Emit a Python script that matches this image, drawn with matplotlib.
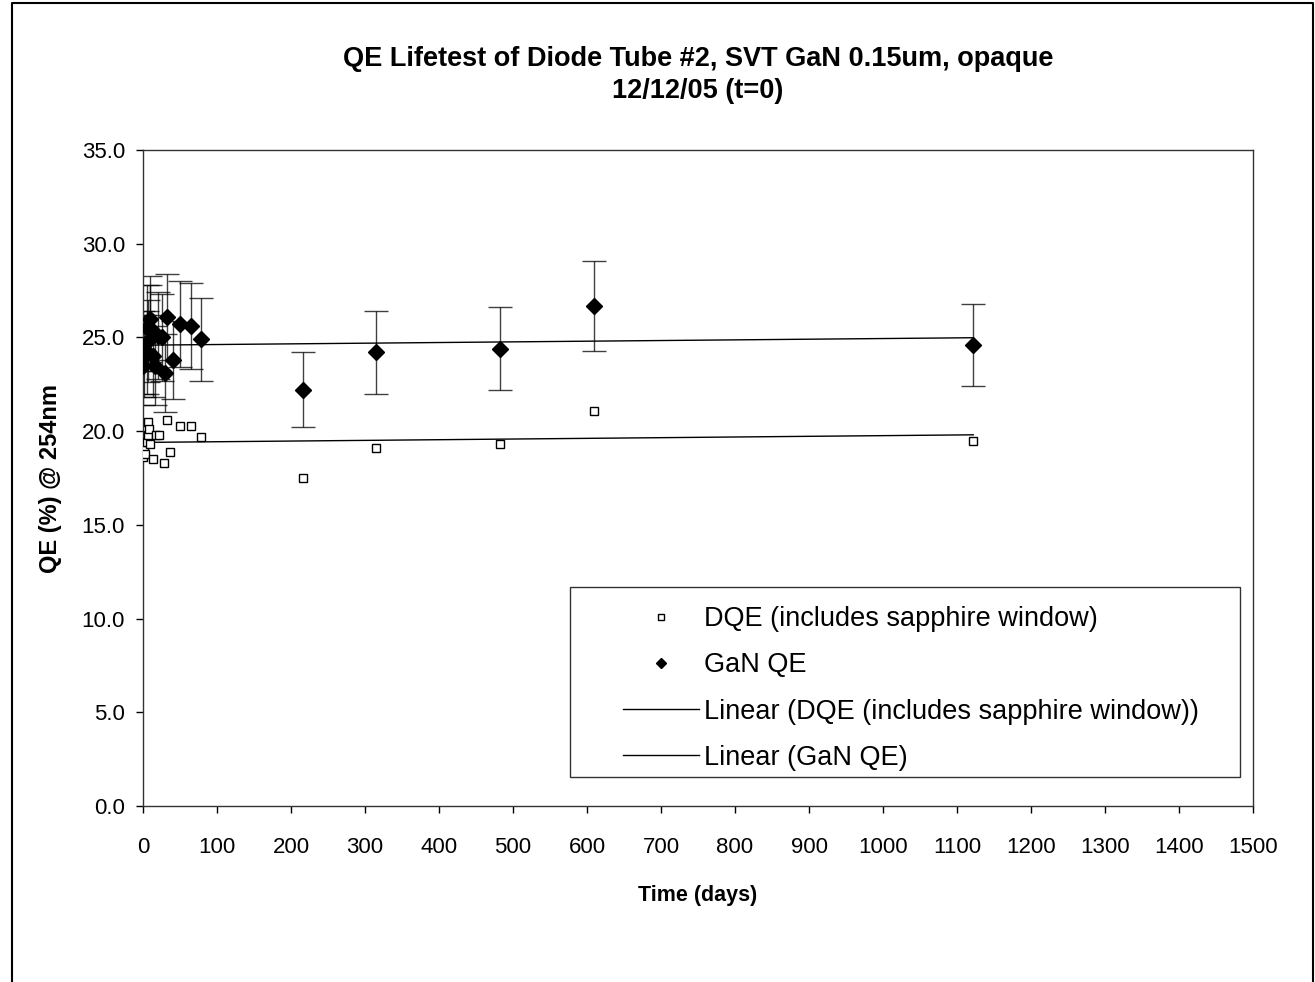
import numpy as np
import matplotlib.pyplot as plt
from matplotlib.lines import Line2D
from matplotlib.patches import Rectangle

plt.rcParams['font.family'] = ['Liberation Sans', 'DejaVu Sans']

# DQE (includes sapphire window)
dqe_days = [0, 0, 2, 3, 5, 7, 7, 8, 10, 14, 18, 22, 28, 32, 36, 50, 65, 78,
            216, 315, 483, 610, 1122]
dqe_vals = [18.6, 19.1, 19.0, 18.8, 19.4, 19.8, 20.5, 20.1, 19.3, 18.5, 19.8,
            19.8, 18.3, 20.6, 18.9, 20.3, 20.3, 19.7,
            17.5, 19.1, 19.3, 21.1, 19.5]

# GaN QE with error bars
gan_days = [0, 0, 2, 5, 5, 7, 10, 10, 14, 16, 20, 25, 30, 33, 40, 50, 65, 78,
            216, 315, 483, 610, 1122]
gan_vals = [23.5, 24.2, 24.0, 24.2, 25.5, 24.8, 26.0, 25.5, 24.0, 23.5, 25.1,
            25.0, 23.1, 26.1, 23.8, 25.7, 25.6, 24.9,
            22.2, 24.2, 24.4, 26.7, 24.6]
gan_err = [2.1, 2.2, 2.2, 2.2, 2.3, 2.2, 2.3, 2.3, 2.2, 2.1, 2.3,
           2.3, 2.1, 2.3, 2.1, 2.3, 2.3, 2.2,
           2.0, 2.2, 2.2, 2.4, 2.2]

W, H = 1315, 982
fig = plt.figure(figsize=(W / 100, H / 100), dpi=100)
ax = fig.add_axes([143 / W, 1 - 806 / H, 1110 / W, 656 / H])

ax.errorbar(gan_days, gan_vals, yerr=gan_err, fmt='none', ecolor='black',
            elinewidth=1.0, capsize=8.5, capthick=1.0, alpha=0.75, zorder=2)
ax.plot(dqe_days, dqe_vals, linestyle='none', marker='s', markersize=6,
        markerfacecolor='white', markeredgecolor='black',
        markeredgewidth=1.0, zorder=3)
ax.plot(gan_days, gan_vals, linestyle='none', marker='D', markersize=8,
        color='black', zorder=4)

# linear trendlines
for xs, ys in [(dqe_days, dqe_vals), (gan_days, gan_vals)]:
    k, b = np.polyfit(xs, ys, 1)
    xx = np.array([0, max(xs)])
    ax.plot(xx, k * xx + b, color='black', linewidth=1.0, zorder=1)

ax.set_xlim(0, 1500)
ax.set_ylim(0, 35)
ax.set_xticks(np.arange(0, 1501, 100))
ax.set_yticks(np.arange(0, 35.1, 5))
ax.set_yticklabels([f"{v:.1f}" for v in np.arange(0, 35.1, 5)])
ax.tick_params(direction='out', length=5, width=1, labelsize=16)
ax.tick_params(axis='x', pad=17)
ax.tick_params(axis='y', pad=8)
for s in ax.spines.values():
    s.set_linewidth(1.0)
    s.set_color('#333333')

ax.set_xlabel("Time (days)", fontsize=15.5, fontweight='bold', labelpad=20)
ax.set_ylabel("QE (%) @ 254nm", fontsize=17, fontweight='bold', labelpad=14)
fig.text(698 / W, 1 - 75 / H,
         "QE Lifetest of Diode Tube #2, SVT GaN 0.15um, opaque\n12/12/05 (t=0)",
         ha='center', va='center', fontsize=19.5, fontweight='bold',
         linespacing=1.35)

handles = [
    Line2D([], [], linestyle='none', marker='s', markersize=5,
           markerfacecolor='white', markeredgecolor='black'),
    Line2D([], [], linestyle='none', marker='D', markersize=5, color='black'),
    Line2D([], [], color='black', linewidth=1.0),
    Line2D([], [], color='black', linewidth=1.0),
]
labels = ["DQE (includes sapphire window)", "GaN QE",
          "Linear (DQE (includes sapphire window))", "Linear (GaN QE)"]
leg = ax.legend(handles, labels, loc='upper left',
                bbox_to_anchor=(623 / W, 1 - 606 / H),
                bbox_transform=fig.transFigure,
                fontsize=19.5, frameon=False, handlelength=2.8,
                handletextpad=0.2, labelspacing=0.75, borderpad=0,
                borderaxespad=0)
# legend box
fig.add_artist(Rectangle((570 / W, 1 - 777 / H), 670 / W, 190 / H,
                         transform=fig.transFigure, facecolor='none',
                         edgecolor='#333333', linewidth=1.0, zorder=5))

# figure border
fig.add_artist(Line2D([12 / W, 12 / W, 1313 / W, 1313 / W],
                      [0, 1 - 3 / H, 1 - 3 / H, 0],
                      transform=fig.transFigure, color='black', linewidth=1.5))

fig.savefig("out.png", dpi=100)
